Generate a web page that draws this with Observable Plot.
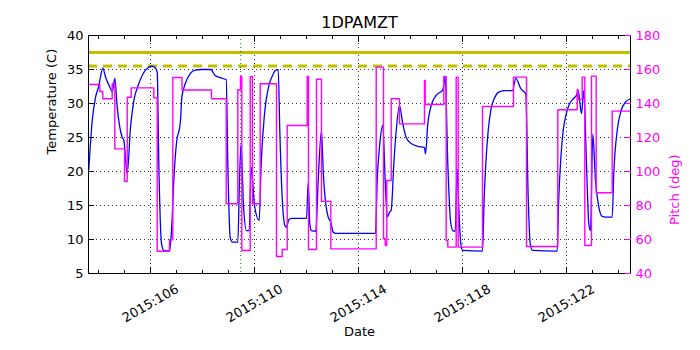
<!DOCTYPE html>
<html>
<head>
<meta charset="utf-8">
<script src="https://cdn.jsdelivr.net/npm/d3@7"></script>
<script src="https://cdn.jsdelivr.net/npm/@observablehq/plot@0.6"></script>
<style>
  html, body { margin: 0; padding: 0; background: white; }
</style>
</head>
<body>
<div id="chart"></div>
<script>
// ---- Data ----
const title = "1DPAMZT";
const xDomain = [103.615, 124.462];          // day-of-year 2015
const majorDays = [106, 110, 114, 118, 122];
const minorDays = d3.range(104, 125);
const tempTicks = [5, 10, 15, 20, 25, 30, 35, 40];
const pitchTicks = [40, 60, 80, 100, 120, 140, 160, 180];
const limitSolid = 37.5;
const limitDashed = 35.5;
const markerDay = 109.47;

// Temperature 1DPAMZT (C)
const tempDays = [103.627,103.758,103.885,104.012,104.077,104.165,104.269,104.462,104.527,104.627,104.719,104.912,104.973,105.104,105.231,105.358,105.550,105.808,106.065,106.165,106.258,106.319,106.423,106.512,106.731,106.808,106.896,107.027,107.100,107.154,107.204,107.335,107.527,107.719,107.973,108.319,108.488,108.681,108.912,108.973,109.065,109.154,109.358,109.423,109.481,109.577,109.692,109.796,109.873,110.000,110.181,110.258,110.385,110.538,110.731,110.781,110.912,110.973,111.065,111.165,111.231,111.319,111.423,112.000,112.065,112.127,112.192,112.358,112.450,112.577,112.642,112.742,112.835,112.935,113.027,113.115,114.654,114.719,114.808,114.935,115.027,115.104,115.192,115.258,115.358,115.450,115.577,115.704,115.835,116.027,116.281,116.538,116.577,116.665,116.796,116.988,117.242,117.335,117.435,117.538,117.627,117.719,117.796,117.865,117.935,118.000,118.769,118.835,118.896,118.988,119.088,119.242,119.412,119.665,119.923,120.050,120.242,120.373,120.435,120.527,120.604,120.692,121.642,121.704,121.769,121.873,121.962,122.088,122.258,122.385,122.450,122.512,122.577,122.665,122.769,122.858,122.923,123.012,123.115,123.242,123.373,123.500,123.758,123.819,123.950,124.104,124.269,124.462];
const tempValues = [20.3,27.5,30.9,32.6,33.9,35.2,33.9,32.2,31.7,33.7,29.5,25.0,24.6,19.7,26.5,30.4,32.9,34.9,35.5,35.3,34.6,21.2,9.4,8.4,8.3,11.3,18.7,25.0,26.0,27.5,30.9,32.9,34.4,34.9,35.0,35.0,34.1,33.8,33.5,21.2,10.3,9.6,9.6,18.7,24.0,15.0,11.3,11.3,20.6,15.0,12.8,21.2,28.5,32.4,34.4,34.8,35.0,26.0,16.2,12.1,11.8,12.9,13.1,13.1,18.4,12.3,11.3,11.2,18.7,26.0,20.1,15.2,13.3,12.5,11.1,10.9,10.9,18.7,23.6,26.8,18.7,13.3,14.0,14.3,21.1,26.0,29.7,27.0,25.0,24.1,23.7,23.5,22.6,27.0,29.7,31.2,32.0,33.9,21.1,12.8,11.3,11.2,20.4,14.0,9.4,8.4,8.3,16.2,21.1,26.0,29.0,30.9,31.7,31.9,31.9,33.7,32.2,31.7,31.4,16.2,9.4,8.4,8.3,16.2,21.1,26.0,28.0,29.7,30.7,31.2,31.9,30.2,28.5,31.9,21.1,12.3,11.3,25.5,18.7,14.8,13.4,13.3,13.3,19.7,26.0,29.0,30.2,30.7];

// Pitch (deg): value holds from each day until the next one
const pitchDays = [103.615,104.050,104.165,104.527,104.627,105.000,105.104,105.258,106.127,106.258,106.731,106.858,107.212,108.346,108.912,109.358,109.462,109.512,109.835,109.923,110.219,110.846,111.065,111.258,112.027,112.077,112.385,112.577,112.935,114.681,114.962,115.027,115.088,115.258,115.577,116.538,116.565,117.281,117.373,117.435,117.758,117.835,118.769,119.962,120.462,121.665,122.412,122.442,122.604,122.704,122.962,123.142,123.758,124.462];
const pitchValues = [151.2,147.1,142.8,151.6,113.3,94.1,143.7,149.2,143.3,53.1,59.8,155.3,147.9,142.8,81.0,148.1,155.9,53.5,155.9,81.0,151.6,50.0,54.1,127.1,155.9,54.1,154.3,82.4,54.5,161.4,60.4,56.5,94.7,142.8,128.0,153.5,139.4,155.9,59.4,55.5,155.5,55.5,138.2,155.5,55.9,136.3,148.1,142.4,155.5,56.5,156.1,87.5,135.5,135.5];

// ---- Build tables ----
const temps = tempDays.map((d, i) => ({day: d, temp: tempValues[i]}));
const pitches = pitchDays.map((d, i) => ({day: d, pitch: pitchValues[i]}));
// map pitch onto the temperature scale (twin axis: 40..180 deg <-> 5..40 C)
const pitchToTemp = p => 5 + (p - 40) * (35 / 140);

const FONT = "DejaVu Sans, Liberation Sans, sans-serif";
const MAGENTA = "#ff00ff";
const OLIVE = "#bfbf00";

const chart = Plot.plot({
  width: 700,
  height: 350,
  marginLeft: 88,
  marginRight: 70,
  marginTop: 35,
  marginBottom: 77,
  style: {fontFamily: FONT, fontSize: "13px", background: "white", color: "black"},
  x: {domain: xDomain, axis: null},
  y: {domain: [5, 40], axis: null},
  marks: [
    // grid
    Plot.ruleX(majorDays, {stroke: "black", strokeWidth: 0.8, strokeDasharray: "1,3"}),
    Plot.ruleY(tempTicks.filter(t => t > 5 && t < 40), {stroke: "black", strokeWidth: 0.8, strokeDasharray: "1,3"}),
    // limit lines
    Plot.ruleY([limitSolid], {stroke: OLIVE, strokeWidth: 3}),
    Plot.ruleY([limitDashed], {stroke: OLIVE, strokeWidth: 3, strokeDasharray: "9,6"}),
    // marker
    Plot.ruleX([markerDay], {stroke: "#008000", strokeWidth: 1, strokeDasharray: "1,3"}),
    // temperature
    Plot.line(temps, {x: "day", y: "temp", curve: "monotone-x", stroke: "#0000ff", strokeWidth: 1.3}),
    // pitch (twin axis)
    Plot.line(pitches, {x: "day", y: d => pitchToTemp(d.pitch), curve: "step-after", stroke: MAGENTA, strokeWidth: 1.4}),
    // frame
    Plot.frame({stroke: "black", strokeWidth: 1}),
    // inward ticks
    Plot.axisX({anchor: "bottom", ticks: minorDays, tickSize: -3, tickFormat: () => "", label: null}),
    Plot.axisX({anchor: "top", ticks: minorDays, tickSize: -3, tickFormat: () => "", label: null}),
    Plot.axisX({anchor: "bottom", ticks: majorDays, tickSize: -6, tickFormat: () => "", label: null}),
    Plot.axisX({anchor: "top", ticks: majorDays, tickSize: -6, tickFormat: () => "", label: null}),
    Plot.axisY({anchor: "left", ticks: tempTicks, tickSize: -6, tickFormat: () => "", label: null}),
    Plot.axisY({anchor: "right", ticks: pitchTicks.map(pitchToTemp), tickSize: -6, tickFormat: () => "", label: null, stroke: MAGENTA}),
    // tick labels
    Plot.axisY({anchor: "left", ticks: tempTicks, tickSize: 0, tickPadding: 5, label: null, fontSize: 13}),
    Plot.axisY({anchor: "right", ticks: pitchTicks.map(pitchToTemp), tickSize: 0, tickPadding: 5, label: null, fontSize: 13, fill: MAGENTA,
      tickFormat: t => String(Math.round(40 + (t - 5) * 4))}),
    Plot.text(majorDays, {x: d => d, frameAnchor: "bottom", dy: 30, rotate: -30, text: d => "2015:" + d,
      textAnchor: "middle", lineAnchor: "middle", fontSize: 13, fill: "black"}),
    // axis titles
    Plot.text(["Date"], {frameAnchor: "bottom", dy: 58, lineAnchor: "middle", fontSize: 13, fill: "black"}),
    Plot.text(["Temperature (C)"], {frameAnchor: "left", dx: -37, rotate: -90, lineAnchor: "middle", fontSize: 13, fill: "black"}),
    Plot.text(["Pitch (deg)"], {frameAnchor: "right", dx: 44, rotate: -90, lineAnchor: "middle", fontSize: 13, fill: MAGENTA}),
    // title
    Plot.text([title], {frameAnchor: "top", dy: -13, lineAnchor: "middle", fontSize: 16, fill: "black"})
  ]
});
document.getElementById("chart").appendChild(chart);
</script>
</body>
</html>
